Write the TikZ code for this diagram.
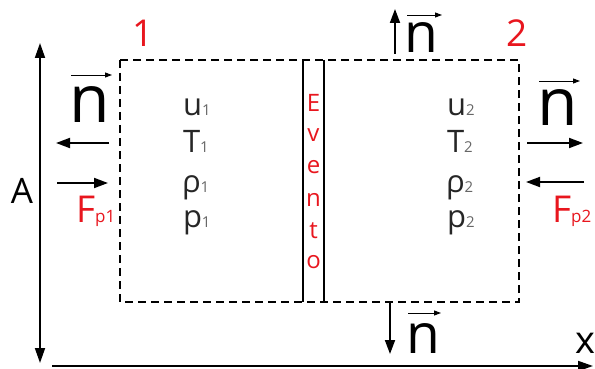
\documentclass[tikz,border=0pt]{standalone}
\usepackage{fontspec}
\setmainfont{Open Sans}
\usetikzlibrary{arrows.meta}
\definecolor{evred}{RGB}{232,22,30}
\begin{document}
\begin{tikzpicture}[x=1pt,y=-1pt,
  every node/.style={inner sep=0pt,outer sep=0pt,anchor=base},
  thickarrow/.style={line width=1.8pt,-{Triangle[length=14pt,width=10pt]}},
  vecarrow/.style={line width=0.9pt,-{Triangle[length=7pt,width=5pt]}},
  bignn/.style={font=\fontsize{66}{66}\selectfont},
  midnn/.style={font=\fontsize{55}{55}\selectfont},
  varlab/.style={font=\fontsize{31}{31}\selectfont,text=black!85,anchor=base west},
  redlab/.style={text=evred},
  evletter/.style={font=\fontsize{24}{24}\selectfont,text=evred},
  cvbox/.style={dashed,line width=1.6pt,dash pattern=on 8pt off 5pt},
  wall/.style={line width=2pt}]
\useasboundingbox (0,0) rectangle (595,369);
% control volume
\coordinate (b1) at (120,60);
\coordinate (b2) at (519,302);
\draw[cvbox] (b1) rectangle (b2);
\coordinate (w1t) at (303,60); \coordinate (w1b) at (303,302);
\coordinate (w2t) at (324,60); \coordinate (w2b) at (324,302);
\draw[wall] (w1t) -- (w1b);
\draw[wall] (w2t) -- (w2b);
% axes
\coordinate (ay1) at (40,43); \coordinate (ay2) at (40,363);
\draw[line width=1.8pt,{Triangle[length=15pt,width=10pt]}-{Triangle[length=15pt,width=10pt]}] (ay1) -- (ay2);
\coordinate (ax1) at (52,366); \coordinate (ax2) at (593,366);
\draw[line width=1.8pt,-{Triangle[length=15pt,width=10pt]}] (ax1) -- (ax2);
\node[font=\fontsize{35}{35}\selectfont,anchor=base] (A) at (22,203) {A};
\node[font=\fontsize{38}{38}\selectfont,anchor=base] (X) at (585,353) {x};
% region numbers
\node[redlab,font=\fontsize{37}{37}\selectfont] (r1) at (143,47) {1};
\node[redlab,font=\fontsize{37}{37}\selectfont] (r2) at (517,47) {2};
% left normal
\node[bignn] (nl) at (90,122) {n};
\coordinate (nlv1) at (71,75); \coordinate (nlv2) at (112,75);
\draw[vecarrow] (nlv1) -- (nlv2);
\coordinate (al1) at (109,143); \coordinate (al2) at (56,143);
\draw[thickarrow] (al1) -- (al2);
\coordinate (fl1) at (57,183); \coordinate (fl2) at (108,183);
\draw[thickarrow] (fl1) -- (fl2);
\node[anchor=base west,text=evred] (Fp1) at (76,222) {\fontsize{37}{37}\selectfont F\fontsize{17}{17}\selectfont p1};
% right normal
\node[bignn] (nr) at (558,125) {n};
\coordinate (nrv1) at (539,81); \coordinate (nrv2) at (580,81);
\draw[vecarrow] (nrv1) -- (nrv2);
\coordinate (ar1) at (527,143); \coordinate (ar2) at (583,143);
\draw[thickarrow] (ar1) -- (ar2);
\coordinate (fr1) at (584,182); \coordinate (fr2) at (526,182);
\draw[thickarrow] (fr1) -- (fr2);
\node[anchor=base west,text=evred] (Fp2) at (552,222) {\fontsize{37}{37}\selectfont F\fontsize{17}{17}\selectfont p2};
% top normal
\node[midnn] (nt) at (421.5,53) {n};
\coordinate (ntv1) at (407,15); \coordinate (ntv2) at (442,15);
\draw[vecarrow] (ntv1) -- (ntv2);
\coordinate (at1) at (395,54); \coordinate (at2) at (395,9);
\draw[thickarrow] (at1) -- (at2);
% bottom normal
\node[midnn] (nb) at (423.5,353) {n};
\coordinate (nbv1) at (408,313); \coordinate (nbv2) at (441,313);
\draw[vecarrow] (nbv1) -- (nbv2);
\coordinate (ab1) at (390,303); \coordinate (ab2) at (390,354);
\draw[thickarrow] (ab1) -- (ab2);
% state variables
\node[varlab] (u1) at (183,116) {u\textcolor{black!60}{\fontsize{15}{15}\selectfont 1}};
\node[varlab] (T1) at (183,152) {T\textcolor{black!60}{\fontsize{15}{15}\selectfont 1}};
\node[varlab] (rho1) at (182,192) {ρ\textcolor{black!60}{\fontsize{15}{15}\selectfont 1}};
\node[varlab] (p1) at (183,227) {p\textcolor{black!60}{\fontsize{15}{15}\selectfont 1}};
\node[varlab] (u2) at (447,116) {u\textcolor{black!60}{\fontsize{15}{15}\selectfont 2}};
\node[varlab] (T2) at (447,152) {T\textcolor{black!60}{\fontsize{15}{15}\selectfont 2}};
\node[varlab] (rho2) at (446,192) {ρ\textcolor{black!60}{\fontsize{15}{15}\selectfont 2}};
\node[varlab] (p2) at (447,227) {p\textcolor{black!60}{\fontsize{15}{15}\selectfont 2}};
% Evento
\node[evletter] (ev1) at (313.5,111) {E};
\node[evletter] (ev2) at (313.5,142) {v};
\node[evletter] (ev3) at (313.5,173) {e};
\node[evletter] (ev4) at (313.5,206) {n};
\node[evletter] (ev5) at (313.5,238) {t};
\node[evletter] (ev6) at (313.5,268) {o};
\end{tikzpicture}
\end{document}
